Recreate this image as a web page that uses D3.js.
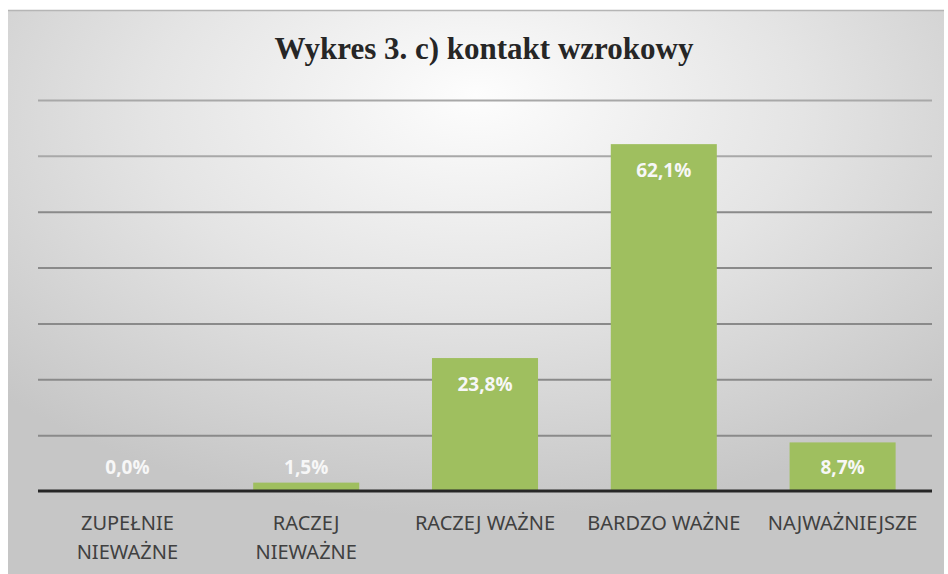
<!DOCTYPE html>
<html>
<head>
<meta charset="utf-8">
<title>Wykres 3. c) kontakt wzrokowy</title>
<script src="https://d3js.org/d3.v7.min.js"></script>
<style>
  body { margin: 0; background: #ffffff; }
</style>
</head>
<body>
<script>
var categories = [["ZUPEŁNIE", "NIEWAŻNE"], ["RACZEJ", "NIEWAŻNE"], ["RACZEJ WAŻNE"], ["BARDZO WAŻNE"], ["NAJWAŻNIEJSZE"]];
var values = [0.0, 1.5, 23.8, 62.1, 8.7];
var valueLabels = ["0,0%", "1,5%", "23,8%", "62,1%", "8,7%"];
var gridTicks = [10, 20, 30, 40, 50, 60, 70];

var width = 948, height = 574;
var plotLeft = 38, plotRight = 932, plotTop = 100, plotBottom = 491;

var svg = d3.select("body").append("svg")
    .attr("width", width)
    .attr("height", height);

var defs = svg.append("defs");
var grad = defs.append("radialGradient")
    .attr("id", "bg")
    .attr("cx", "50%").attr("cy", "20%")
    .attr("r", "70%")
    .attr("fx", "50%").attr("fy", "15%");
grad.append("stop").attr("offset", "0%").attr("stop-color", "#fdfdfd");
grad.append("stop").attr("offset", "50%").attr("stop-color", "#e4e4e4");
grad.append("stop").attr("offset", "100%").attr("stop-color", "#c6c6c6");

// panel
svg.append("rect")
    .attr("x", 8).attr("y", 10)
    .attr("width", 936).attr("height", 564)
    .attr("fill", "url(#bg)");
svg.append("line")
    .attr("x1", 8).attr("x2", 944).attr("y1", 10.5).attr("y2", 10.5)
    .attr("stroke", "#b5b5b5").attr("stroke-width", 1.5);

var x = d3.scaleBand()
    .domain(d3.range(values.length))
    .range([plotLeft, plotRight])
    .paddingInner(0.407)
    .paddingOuter(0.2035);

var y = d3.scaleLinear()
    .domain([0, 70])
    .range([plotBottom, plotTop]);

// gridlines
svg.append("g")
    .attr("transform", "translate(" + plotLeft + ",0)")
    .call(d3.axisLeft(y).tickValues(gridTicks).tickSize(-(plotRight - plotLeft)).tickFormat(""))
    .call(function(g) {
        g.select(".domain").remove();
        g.selectAll(".tick line")
            .attr("stroke", function(d) { return d >= 60 ? "#a8a8a8" : "#8a8a8a"; })
            .attr("stroke-width", 2);
    });

// bars
svg.selectAll("rect.bar")
    .data(values)
    .enter().append("rect")
    .attr("class", "bar")
    .attr("x", function(d, i) { return x(i); })
    .attr("width", x.bandwidth())
    .attr("y", function(d) { return y(d); })
    .attr("height", function(d) { return plotBottom - y(d); })
    .attr("fill", "#9fbf5f");

// baseline
svg.append("line")
    .attr("x1", plotLeft).attr("x2", plotRight)
    .attr("y1", plotBottom).attr("y2", plotBottom)
    .attr("stroke", "#262626").attr("stroke-width", 3);

// value labels
svg.selectAll("text.val")
    .data(values)
    .enter().append("text")
    .attr("class", "val")
    .attr("x", function(d, i) { return x(i) + x.bandwidth() / 2; })
    .attr("y", function(d) { return Math.min(y(d) + 26, plotBottom - 24); })
    .attr("dy", "0.35em")
    .attr("text-anchor", "middle")
    .attr("font-family", "'Open Sans', 'Noto Sans', sans-serif")
    .attr("font-weight", "bold")
    .attr("font-size", 19)
    .attr("fill", "#f7f7f7")
    .text(function(d, i) { return valueLabels[i]; });

// category labels
var cat = svg.selectAll("text.cat")
    .data(categories)
    .enter().append("text")
    .attr("class", "cat")
    .attr("x", function(d, i) { return x(i) + x.bandwidth() / 2; })
    .attr("y", 530)
    .attr("text-anchor", "middle")
    .attr("font-family", "'Noto Sans', sans-serif")
    .attr("font-size", 20)
    .attr("fill", "#404040");
cat.selectAll("tspan")
    .data(function(d) { return d; })
    .enter().append("tspan")
    .attr("x", function() { return d3.select(this.parentNode).attr("x"); })
    .attr("dy", function(d, j) { return j === 0 ? 0 : 29; })
    .text(function(d) { return d; });

// title
svg.append("text")
    .attr("x", 484).attr("y", 59)
    .attr("text-anchor", "middle")
    .attr("font-family", "'Liberation Serif', 'Times New Roman', serif")
    .attr("font-weight", "bold")
    .attr("font-size", 31)
    .attr("fill", "#262626")
    .text("Wykres 3. c) kontakt wzrokowy");
</script>
</body>
</html>
